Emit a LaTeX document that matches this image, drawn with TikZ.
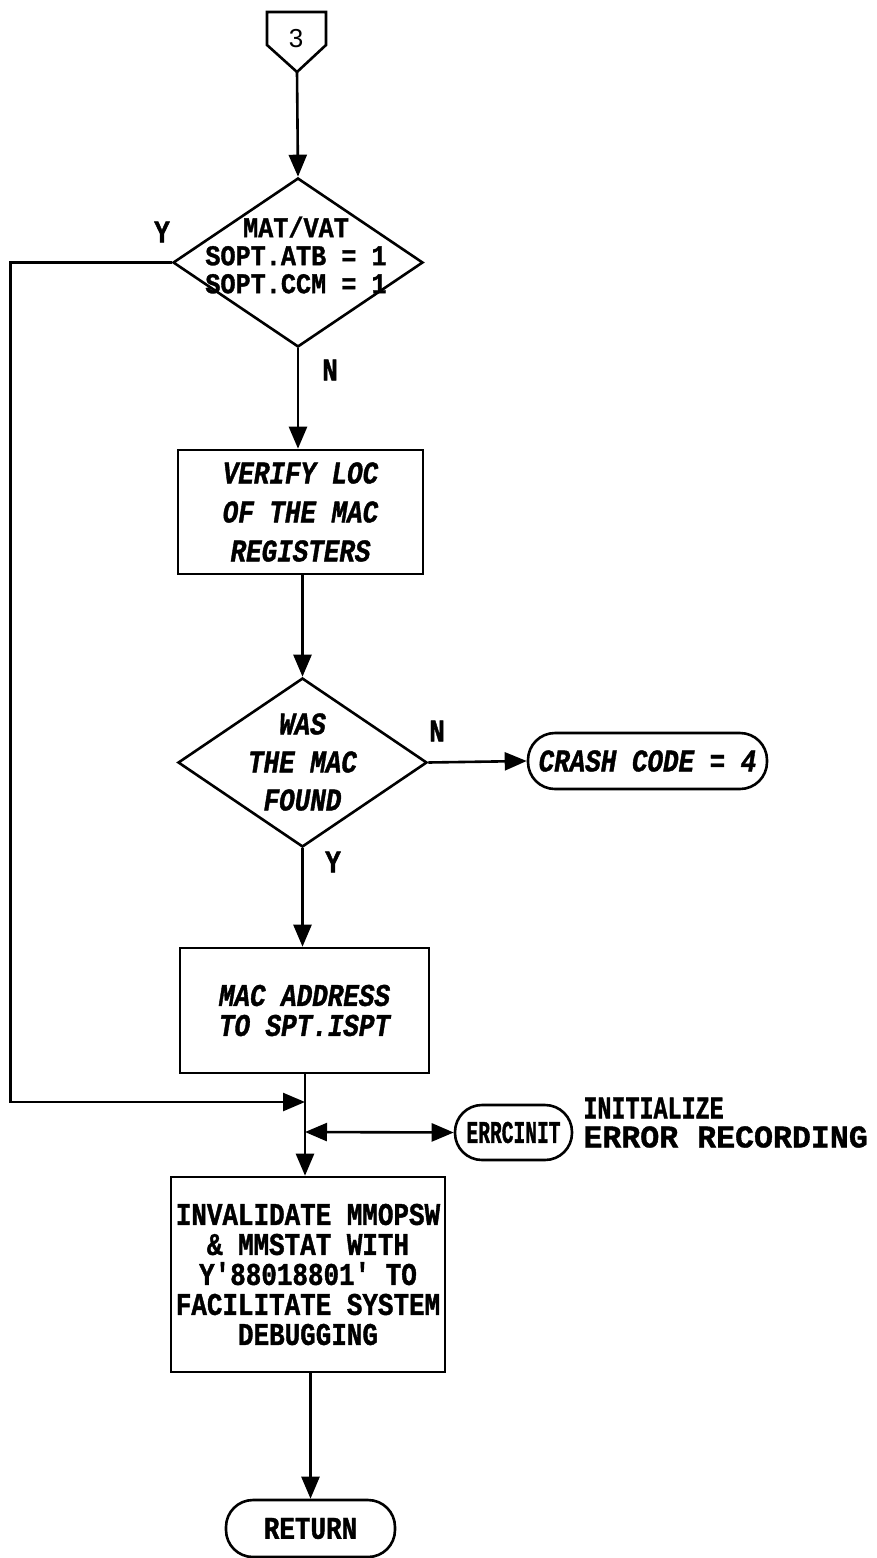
\documentclass[tikz,border=0pt]{standalone}
\usepackage{fontspec}
\usetikzlibrary{arrows.meta,shapes.geometric}
\newfontfamily\tfont[FakeStretch=0.82,FakeBold=1.2]{Liberation Mono}
\newfontfamily\widefont[FakeStretch=0.88,FakeBold=1.2]{Liberation Mono}
\newfontfamily\narrowfont[FakeStretch=0.62,FakeBold=1.2]{Liberation Mono}
\newfontfamily\notefont[FakeBold=1.2]{Liberation Mono}
\newfontfamily\notenarrow[FakeStretch=0.74,FakeBold=1.2]{Liberation Mono}
\newfontfamily\digitfont{Liberation Sans}

\tikzset{
  lw/.style={line width=1.3pt},
  flow/.style={lw,-{Triangle[length=11pt,width=9pt]}},
  both/.style={lw,{Triangle[length=11pt,width=9pt]}-{Triangle[length=11pt,width=9pt]}},
  upright/.style={font={\tfont\bfseries\fontsize{15.8pt}{#1}\selectfont}},
  slanted/.style={font={\tfont\bfseries\itshape\fontsize{15.8pt}{#1}\selectfont}},
  procbox/.style={draw,lw,rectangle,inner sep=0pt,align=center},
  decision/.style={draw,lw,diamond,inner sep=0pt},
  terminal/.style={draw,lw,rectangle,rounded corners=13.5pt,inner sep=0pt,align=center},
  branchlabel/.style={upright=15pt,inner sep=0pt},
}

\begin{document}
\begin{tikzpicture}[x=0.5pt,y=-0.5pt]
\useasboundingbox (0,0) rectangle (877,1558);

% off-page connector 3
\draw[lw,line join=miter] (267,12) -- (326,12) -- (326,45) -- (297,72) -- (267,45) -- cycle;
\node[font={\digitfont\fontsize{13pt}{13pt}\selectfont},inner sep=0pt] (conn3) at (296,39) {3};
\coordinate (conn3tip) at (297,72);

% first decision
\node[decision,minimum width=125pt,minimum height=84.5pt] (d1) at (298,262.5) {};
\node[font={\widefont\bfseries\fontsize{14.3pt}{14pt}\selectfont},align=center,inner sep=0pt] (d1text) at (296,255) {MAT/VAT\\SOPT.ATB = 1\\SOPT.CCM = 1};
\node[branchlabel] (d1y) at (162,232) {Y};
\node[branchlabel] (d1n) at (330,370) {N};

% locate registers
\node[procbox,minimum width=122.5pt,minimum height=62pt,slanted=19.5pt] (verify) at (300.5,512) {VERIFY LOC\\OF THE MAC\\REGISTERS};

% second decision
\node[decision,minimum width=124.5pt,minimum height=84.5pt] (d2) at (302.5,762.5) {};
\node[slanted=19pt,align=center,inner sep=0pt] (d2text) at (302.5,762) {WAS\\THE MAC\\FOUND};
\node[branchlabel] (d2n) at (437,731) {N};
\node[branchlabel] (d2y) at (333,862) {Y};

\node[terminal,minimum width=119.5pt,minimum height=28pt,slanted=15pt] (crash) at (647.5,761) {CRASH CODE = 4};

% store address
\node[procbox,minimum width=124.5pt,minimum height=62.5pt,slanted=15pt] (store) at (304.5,1010.5) {MAC ADDRESS\\TO SPT.ISPT};

% junctions on the main line
\coordinate (jA) at (305,1102);
\coordinate (jB) at (305,1132);

\node[terminal,minimum width=58.5pt,minimum height=27.5pt,font={\narrowfont\bfseries\fontsize{15.8pt}{15pt}\selectfont}] (errc) at (513.5,1132.5) {ERRCINIT};
\node[anchor=west,inner sep=0pt,font={\notenarrow\bfseries\fontsize{15.8pt}{15pt}\selectfont}] (note1) at (583,1108) {INITIALIZE};
\node[anchor=west,inner sep=0pt,font={\notefont\bfseries\fontsize{15.8pt}{15pt}\selectfont}] (note2) at (583,1137) {ERROR RECORDING};

% invalidate
\node[procbox,minimum width=137pt,minimum height=97.5pt,upright=15pt] (inval) at (308,1274.5) {INVALIDATE MMOPSW\\\& MMSTAT WITH\\Y'88018801' TO\\FACILITATE SYSTEM\\DEBUGGING};

\node[terminal,minimum width=84.5pt,minimum height=28.5pt,upright=15pt] (ret) at (310.5,1528.5) {RETURN};

% connectors
\draw[flow] (conn3tip) -- (d1.north);
\draw[flow] (d1.south) -- (d1.south |- verify.north);
\draw[flow] (verify.south -| d2.north) -- (d2.north);
\draw[flow] (d2.east) -- (crash.west);
\draw[flow] (d2.south) -- (d2.south |- store.north);
\draw[lw] (store.south -| jA) -- (jB);
\draw[flow] (jB) -- (jB |- inval.north);
\draw[flow] (d1.west) -- ++(-161,0) |- (jA);
\draw[both] (jB) -- (errc.west);
\draw[flow] (inval.south -| ret.north) -- (ret.north);
\end{tikzpicture}
\end{document}
